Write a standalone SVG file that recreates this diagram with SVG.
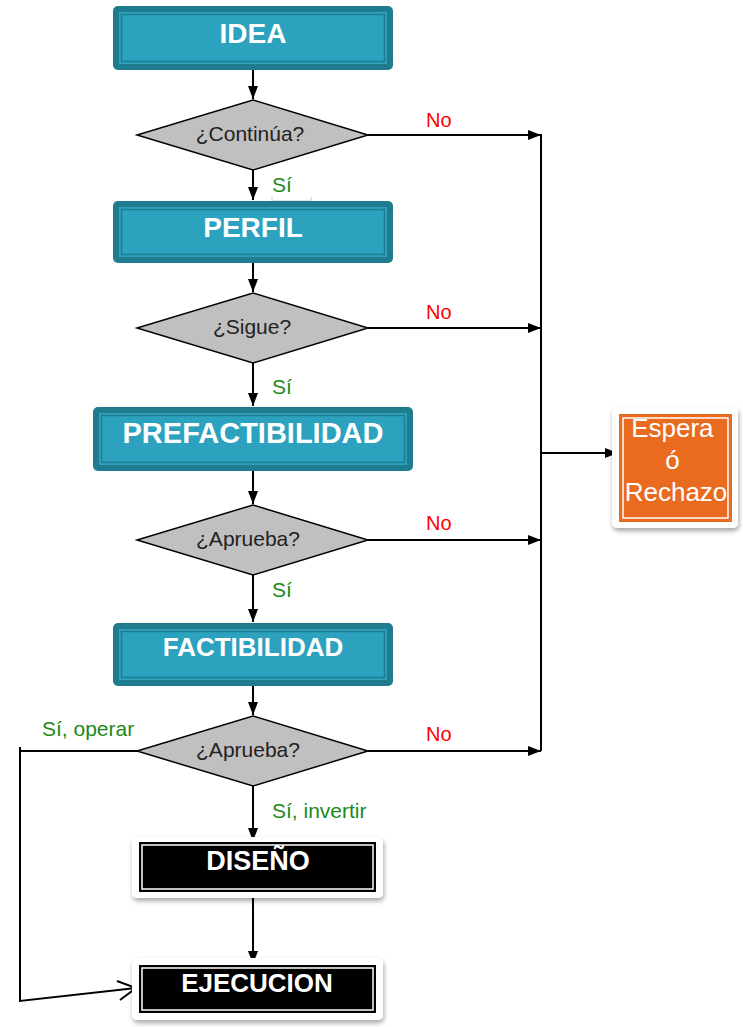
<svg xmlns="http://www.w3.org/2000/svg" width="743" height="1027" viewBox="0 0 743 1027">
<defs>
<marker id="arr" markerWidth="14" markerHeight="12" refX="13" refY="6" orient="auto" markerUnits="userSpaceOnUse">
<path d="M0,1 L13,6 L0,11 Z" fill="#000"/>
</marker>
<filter id="sh" x="-10%" y="-10%" width="125%" height="130%">
<feDropShadow dx="1" dy="3" stdDeviation="2.5" flood-color="#000" flood-opacity="0.35"/>
</filter>
<style>
.tout{fill:#1f7b8e}
.tin{fill:#2ca2bf}
.tline{fill:none;stroke:#1f7b8e;stroke-width:1.5}
.bt{font-family:"Liberation Sans",Arial,sans-serif;font-weight:bold;fill:#fff;text-anchor:middle}
.dia{fill:#c0c0c0;stroke:#000;stroke-width:1.5}
.dt{font-family:"Liberation Sans",Arial,sans-serif;font-size:21px;fill:#222;text-anchor:middle}
.no{font-family:"Liberation Sans",Arial,sans-serif;font-size:20px;fill:#ff0000}
.si{font-family:"Liberation Sans",Arial,sans-serif;font-size:21px;fill:#1a8a1a}
.ln{fill:none;stroke:#000;stroke-width:2}
.wbox{fill:#fff}
.wline{fill:none;stroke:#fff;stroke-width:1.5}
</style>
</defs>
<rect width="743" height="1027" fill="#fff"/>

<g id="connectors">
<path class="ln" d="M253,70 V99" marker-end="url(#arr)"/>
<path class="ln" d="M253,170 V200" marker-end="url(#arr)"/>
<path class="ln" d="M253,263 V292" marker-end="url(#arr)"/>
<path class="ln" d="M253,363 V406" marker-end="url(#arr)"/>
<path class="ln" d="M253,471 V504" marker-end="url(#arr)"/>
<path class="ln" d="M253,575 V622" marker-end="url(#arr)"/>
<path class="ln" d="M253,686 V715" marker-end="url(#arr)"/>
<path class="ln" d="M253,786 V841" marker-end="url(#arr)"/>
<path class="ln" d="M253,892 V964" marker-end="url(#arr)"/>
<path class="ln" d="M368,135 H541" marker-end="url(#arr)"/>
<path class="ln" d="M368,328 H541" marker-end="url(#arr)"/>
<path class="ln" d="M368,540 H541" marker-end="url(#arr)"/>
<path class="ln" d="M368,751 H541" marker-end="url(#arr)"/>
<path class="ln" d="M541,134 V751"/>
<path class="ln" d="M541,453 H618" marker-end="url(#arr)"/>
<path class="ln" d="M138,751 H20"/>
<path class="ln" d="M20,747 V1001 L136,988"/>
<path class="ln" d="M117,981 L136,988 L120,1000"/>
<path d="M272,197 V201 H311 V197" fill="none" stroke="#c8c8c8" stroke-width="1"/>
<text class="no" x="426" y="127">No</text>
<text class="no" x="426" y="319">No</text>
<text class="no" x="426" y="530">No</text>
<text class="no" x="426" y="741">No</text>
<text class="si" x="272" y="192">Sí</text>
<text class="si" x="272" y="394">Sí</text>
<text class="si" x="272" y="597">Sí</text>
<text class="si" x="42" y="736">Sí, operar</text>
<text class="si" x="272" y="818">Sí, invertir</text>
</g>

<g id="idea">
<rect class="tout" x="113" y="6" width="280" height="64" rx="5"/>
<rect class="tin" x="119" y="12" width="268" height="52"/>
<rect class="tline" x="121.5" y="14.5" width="263" height="47"/>
<text class="bt" x="253" y="43" font-size="28">IDEA</text>
</g>

<g id="d1">
<polygon class="dia" points="253,100 368,135 253,170 137,135"/>
<text class="dt" x="250" y="141">¿Continúa?</text>
</g>

<g id="perfil">
<rect class="tout" x="113" y="201" width="280" height="62" rx="5"/>
<rect class="tin" x="119" y="207" width="268" height="50"/>
<rect class="tline" x="121.5" y="209.5" width="263" height="45"/>
<text class="bt" x="253" y="237" font-size="28">PERFIL</text>
</g>

<g id="d2">
<polygon class="dia" points="253,293 368,328 253,363 137,328"/>
<text class="dt" x="252" y="334">¿Sigue?</text>
</g>

<g id="prefactibilidad">
<rect class="tout" x="93" y="407" width="320" height="64" rx="5"/>
<rect class="tin" x="99" y="413" width="308" height="52"/>
<rect class="tline" x="101.5" y="415.5" width="303" height="47"/>
<text class="bt" x="253" y="443" font-size="29">PREFACTIBILIDAD</text>
</g>

<g id="d3">
<polygon class="dia" points="253,505 368,540 253,575 137,540"/>
<text class="dt" x="248" y="546">¿Aprueba?</text>
</g>

<g id="factibilidad">
<rect class="tout" x="113" y="623" width="280" height="63" rx="5"/>
<rect class="tin" x="119" y="629" width="268" height="51"/>
<rect class="tline" x="121.5" y="631.5" width="263" height="46"/>
<text class="bt" x="253" y="656" font-size="26">FACTIBILIDAD</text>
</g>

<g id="d4">
<polygon class="dia" points="253,716 368,751 253,786 137,751"/>
<text class="dt" x="248" y="757">¿Aprueba?</text>
</g>

<g id="diseno">
<rect class="wbox" x="132" y="837" width="251" height="61" rx="5" filter="url(#sh)"/>
<rect x="139" y="842" width="237" height="50" fill="#000"/>
<rect class="wline" x="142" y="845" width="231" height="44"/>
<text class="bt" x="258" y="870" font-size="27">DISEÑO</text>
</g>

<g id="ejecucion">
<rect class="wbox" x="132" y="958" width="251" height="62" rx="5" filter="url(#sh)"/>
<rect x="139" y="965" width="237" height="48" fill="#000"/>
<rect class="wline" x="142" y="968" width="231" height="42"/>
<text class="bt" x="257" y="992" font-size="26">EJECUCION</text>
</g>

<g id="espera">
<rect class="wbox" x="612" y="407" width="126" height="121" rx="5" filter="url(#sh)"/>
<rect x="619" y="414" width="113" height="108" fill="#e96b1f"/>
<rect class="wline" x="623" y="418" width="105" height="100"/>
<text font-family="Liberation Sans, Arial, sans-serif" font-size="26" fill="#fff" text-anchor="middle">
<tspan x="676" y="437">Espera</tspan>
<tspan x="676" y="469">ó</tspan>
<tspan x="676" y="501">Rechazo</tspan>
</text>
</g>
</svg>
